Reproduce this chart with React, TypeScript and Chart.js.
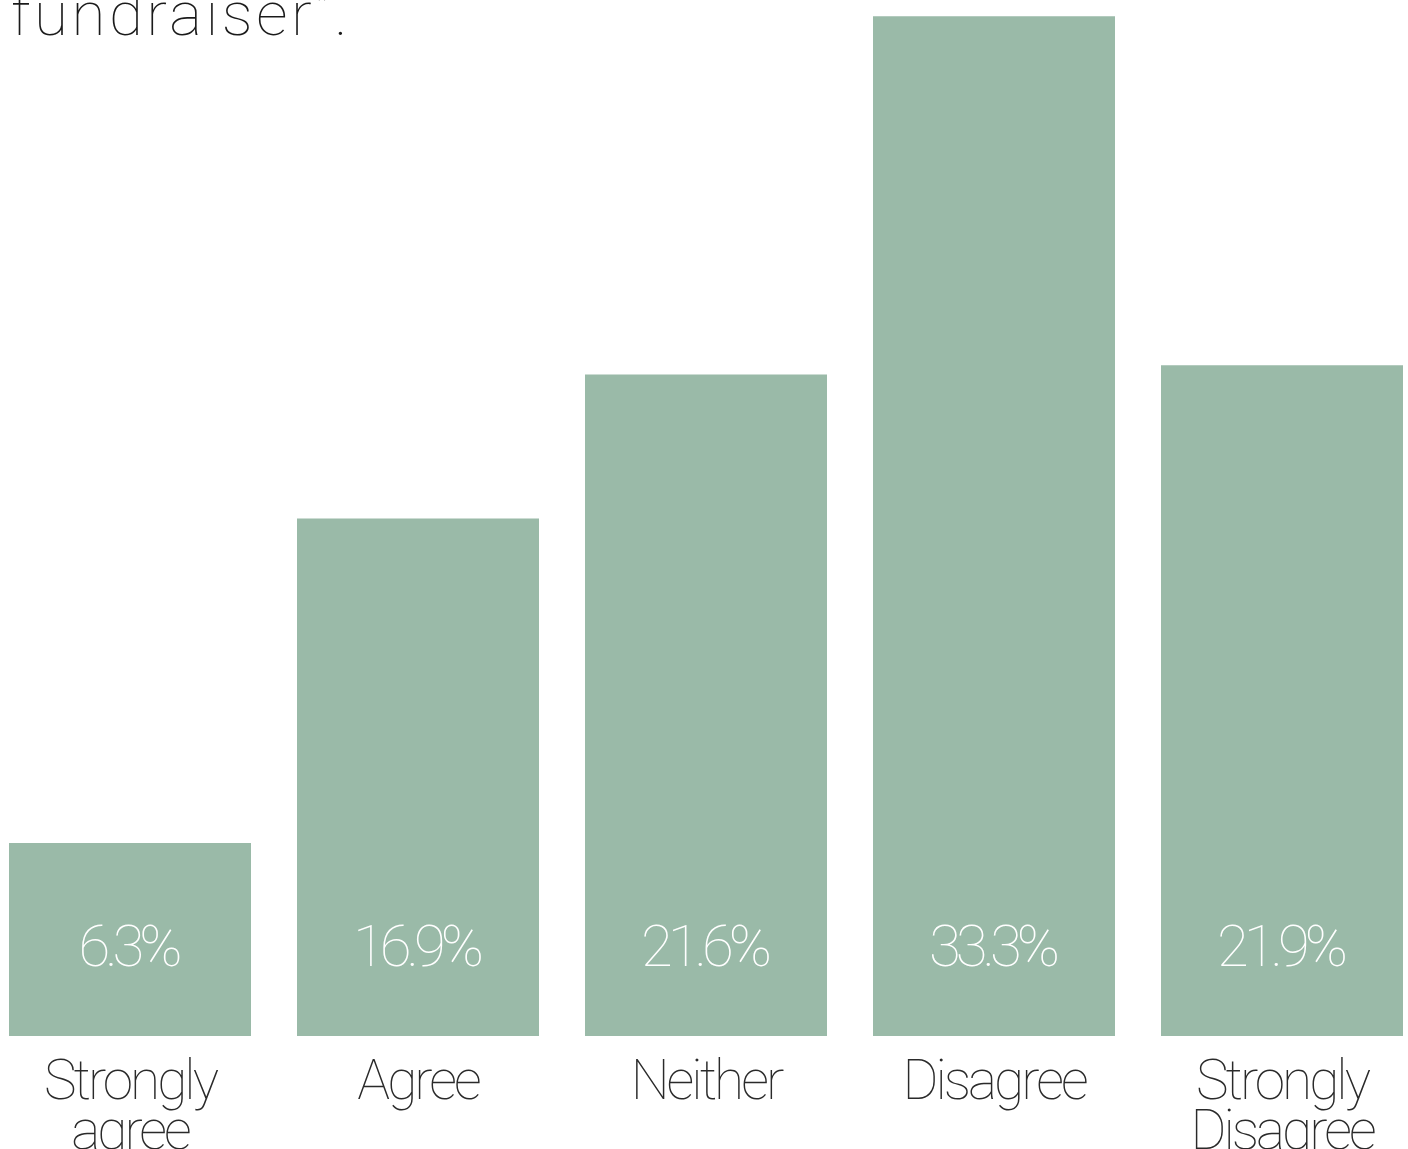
import React, { useEffect, useRef } from 'react';
import { Chart, registerables } from 'chart.js';

Chart.register(...registerables);

const categories: (string | string[])[] = [
  ['Strongly', 'agree'],
  'Agree',
  'Neither',
  'Disagree',
  ['Strongly', 'Disagree'],
];
const values: number[] = [6.3, 16.9, 21.6, 33.3, 21.9];
const valueLabels: string[] = ['6.3%', '16.9%', '21.6%', '33.3%', '21.9%'];
const titleText = 'fundraiser\u201d.';

const BAR_COLOR = '#9ABAA8';
const FONT = 'Roboto, "Helvetica Neue", Helvetica, Arial, sans-serif';

const CANVAS_W = 1440;
const CANVAS_H = 1208;

const spacingPlugin = {
  id: 'spacingPlugin',
  beforeDraw(chart: any) {
    chart.ctx.letterSpacing = '-3px';
  },
};

const valueLabelPlugin = {
  id: 'valueLabelPlugin',
  afterDatasetsDraw(chart: any) {
    const ctx = chart.ctx;
    const meta = chart.getDatasetMeta(0);
    const base = chart.scales.y.getPixelForValue(0);
    ctx.save();
    ctx.font = `100 58px ${FONT}`;
    ctx.letterSpacing = '-5px';
    ctx.fillStyle = '#ffffff';
    ctx.textAlign = 'center';
    ctx.textBaseline = 'alphabetic';
    meta.data.forEach((el: any, i: number) => {
      ctx.fillText(valueLabels[i], el.x - 2, base - 70);
    });
    ctx.restore();
  },
};

const titlePlugin = {
  id: 'titlePlugin',
  afterDraw(chart: any) {
    const ctx = chart.ctx;
    ctx.save();
    ctx.font = `100 62px ${FONT}`;
    ctx.letterSpacing = '3.5px';
    ctx.fillStyle = '#1a1a1a';
    ctx.textAlign = 'left';
    ctx.textBaseline = 'alphabetic';
    ctx.fillText(titleText, 25, 77);
    ctx.restore();
  },
};

export default function App() {
  const ref = useRef<HTMLCanvasElement | null>(null);

  useEffect(() => {
    if (!ref.current) return;
    const chart = new Chart(ref.current, {
      type: 'bar',
      data: {
        labels: categories,
        datasets: [
          {
            data: values,
            backgroundColor: BAR_COLOR,
            borderWidth: 0,
            barPercentage: 1,
            categoryPercentage: 0.8403,
          },
        ],
      },
      options: {
        responsive: false,
        maintainAspectRatio: false,
        animation: false,
        devicePixelRatio: 1,
        layout: { padding: 0 },
        plugins: {
          legend: { display: false },
          title: { display: false },
          tooltip: { enabled: false },
        },
        scales: {
          x: {
            offset: true,
            grid: { display: false, drawTicks: false },
            border: { display: false },
            ticks: {
              color: '#2a2a2a',
              padding: 24,
              autoSkip: false,
              maxRotation: 0,
              minRotation: 0,
              font: { family: FONT, size: 55, weight: '100', lineHeight: '50px' },
            },
            afterFit: (scale: any) => {
              scale.height = 130;
            },
          },
          y: {
            display: false,
            min: 0,
            max: 35.2,
          },
        },
      },
      plugins: [spacingPlugin, valueLabelPlugin, titlePlugin],
    });
    return () => chart.destroy();
  }, []);

  return (
    <div
      style={{
        position: 'fixed',
        left: 0,
        top: 0,
        width: 1408,
        height: 1149,
        overflow: 'hidden',
        background: '#ffffff',
      }}
    >
      <canvas
        ref={ref}
        width={CANVAS_W}
        height={CANVAS_H}
        style={{ position: 'absolute', left: -14, top: -42, width: CANVAS_W, height: CANVAS_H }}
      />
    </div>
  );
}
